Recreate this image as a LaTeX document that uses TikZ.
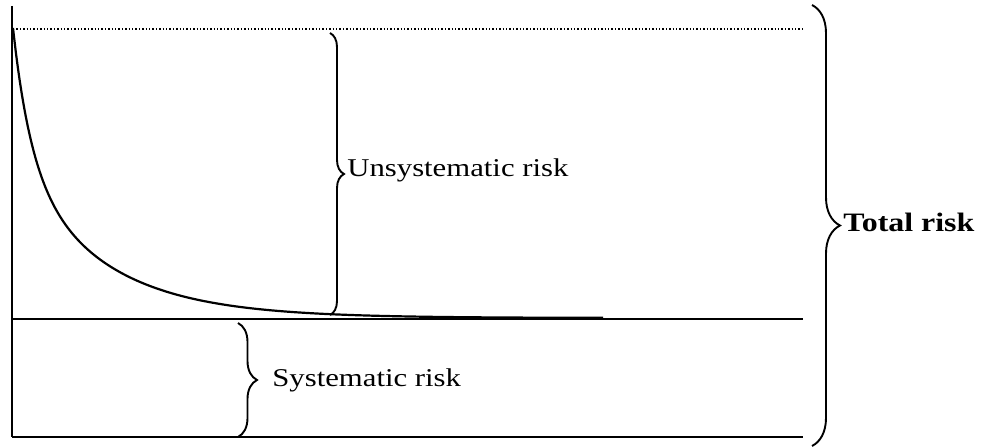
\documentclass[tikz,border=0pt]{standalone}
\usepackage{fontspec}
\setmainfont[FakeStretch=1.2]{Liberation Serif}
\usetikzlibrary{decorations.pathreplacing,positioning}

\begin{document}
\begin{tikzpicture}[x=0.5pt,y=-0.5pt]
	  \tikzstyle{every node} = [inner sep=0pt, anchor=mid west, font=\fontsize{12.8}{15}\selectfont]
	  \tikzstyle{riskbrace} = [decorate, line width=0.95pt]
	  \tikzstyle{level} = [line width=0.9pt]
	  \useasboundingbox (0,0) rectangle (985,448);
	  % axis and the three levels
	  \coordinate (top) at (12,6);
	  \coordinate (origin) at (12,437);
	  \coordinate (start) at (13,29);
	  \coordinate (dotend) at (803,29);
	  \coordinate (midleft) at (12,319);
	  \coordinate (midright) at (803,319);
	  \coordinate (botright) at (803,437);
	  \draw[line width=1pt] (top) -- (origin);
	  \draw[level] (origin) -- (botright);
	  \draw[level] (midleft) -- (midright);
	  \draw[densely dotted, line width=0.7pt] (start) -- (dotend);
	  % falling curve
	  \draw[line width=1.1pt] plot[domain=0:590, samples=200, smooth]
	    ({13+\x}, {318 - 130*exp(-\x/18) - 160*exp(-\x/85)});
	  % braces
	  \coordinate (u1) at (330,33);
	  \coordinate (u2) at (330,315);
	  \coordinate (s1) at (238,323);
	  \coordinate (s2) at (238,437);
	  \coordinate (t1) at (812,5);
	  \coordinate (t2) at (812,446);
	  \draw[riskbrace, decoration={brace, amplitude=7pt}] (u1) -- (u2);
	  \draw[riskbrace, decoration={brace, amplitude=9.5pt}] (s1) -- (s2);
	  \draw[riskbrace, decoration={brace, amplitude=14pt}] (t1) -- (t2);
	  % labels
	  \node (unsys) at (347,172) {Unsystematic risk};
	  \node (sys) at (272,382) {Systematic risk};
	  \node (total) at (843,227) {\fontsize{13.3}{15}\selectfont\bfseries Total risk};
\end{tikzpicture}
\end{document}
